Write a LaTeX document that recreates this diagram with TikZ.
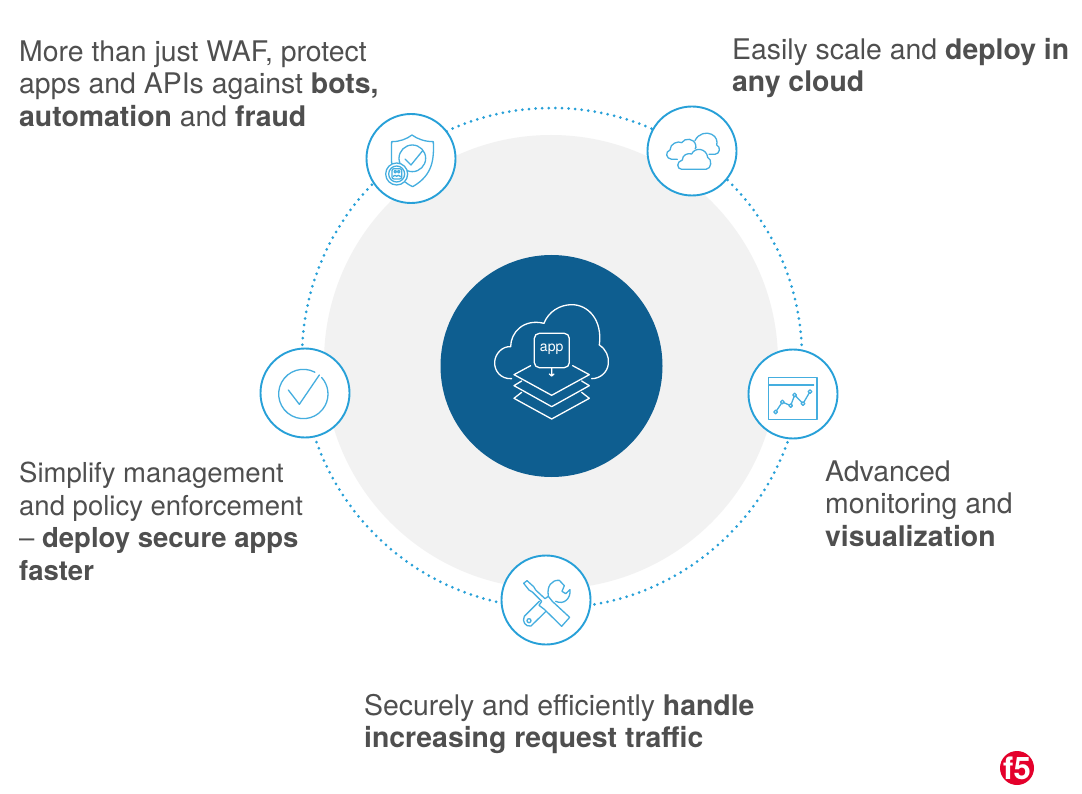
\documentclass[tikz,border=0pt]{standalone}
\usepackage{fontspec}
\setmainfont{TeX Gyre Heros}
\definecolor{ringblue}{HTML}{27A0D8}
\definecolor{iconblue}{HTML}{45AEDF}
\definecolor{deepblue}{HTML}{0E5E90}
\definecolor{softgray}{HTML}{F2F2F2}
\definecolor{bodytext}{HTML}{4F4F4F}
\definecolor{brandred}{HTML}{E4002B}
\tikzset{
  iconring/.style={circle,draw=ringblue,line width=1.9pt,fill=white,minimum size=89pt,inner sep=0pt},
  caption/.style={anchor=north west,inner sep=0pt,align=left,text=bodytext,font=\fontsize{28.4}{32.5}\selectfont},
  captionsmall/.style={caption,font=\fontsize{27.5}{32.5}\selectfont},
  iconline/.style={draw=iconblue,line width=1.3pt,line join=round,line cap=round},
  whiteline/.style={draw=white,line width=1.3pt,line join=round,line cap=round},
  zoomed/.style={shift={#1},x=0.3333pt,y=-0.3333pt},
}
\begin{document}
\begin{tikzpicture}[x=1pt,y=-1pt]
\useasboundingbox (0,0) rectangle (1082,794);
\fill[white] (0,0) rectangle (1082,794);
\node[circle,fill=softgray,minimum size=454pt,inner sep=0pt] (halo) at (551,362) {};
\node[circle,draw=ringblue,line width=3pt,dash pattern=on 0pt off 6.6pt,line cap=round,minimum size=500pt,inner sep=0pt] (ring) at (552,358) {};
\node[circle,fill=deepblue,minimum size=222pt,inner sep=0pt] (hub) at (551.5,366) {};
\node[iconring] (shieldicon) at (411,158.5) {};
\node[iconring] (cloudicon) at (692,151) {};
\node[iconring] (charticon) at (793,394) {};
\node[iconring] (toolicon) at (546,600) {};
\node[iconring] (checkicon) at (305,393) {};

% hub icon
\begin{scope}[zoomed={(480,290)}]
\draw[whiteline] (95,266) .. controls (62,268) and (42,242) .. (44,215) .. controls (46,190) and (68,168) .. (92,170)
  .. controls (92,128) and (130,85) .. (192,100) .. controls (205,65) and (240,44) .. (275,44)
  .. controls (325,44) and (368,90) .. (358,165) .. controls (378,178) and (388,200) .. (385,222) .. controls (382,248) and (360,266) .. (335,266);
\draw[whiteline,rounded corners=5pt] (163,130) rectangle (268,233);
\node[text=white,font=\fontsize{14}{14}\selectfont,inner sep=0pt] (applabel) at (215,177) {app};
\draw[whiteline] (215,233) -- (215,258) (208,252) -- (215,258) -- (222,252);
\draw[whiteline] (152,227) -- (102,254) -- (215,316) -- (328,254) -- (278,227);
\draw[whiteline] (125,273) -- (102,287) -- (215,350) -- (328,287) -- (305,273);
\draw[whiteline] (125,307) -- (102,325) -- (215,387) -- (328,325) -- (305,307);
\end{scope}

% shield icon
\begin{scope}[zoomed={(350,100)}]
\draw[iconline] (125,190) .. controls (124,170) and (124,150) .. (125,125) .. controls (150,125) and (170,117) .. (186,105)
  .. controls (202,117) and (225,125) .. (250,125) .. controls (252,175) and (250,225) .. (188,260) .. controls (180,256) and (172,252) .. (165,246);
\draw[iconline] (187,175) circle[radius=40];
\draw[iconline] (165,177) -- (183,195) -- (218,152);
\draw[iconline,fill=white] (140,222) circle[radius=33];
\draw[iconline] (140,222) circle[radius=24];
\draw[iconline,rounded corners=2pt] (126,206) rectangle (155,237);
\draw[iconline] (136,215) circle[radius=4] (146,215) circle[radius=4];
\draw[iconline] (130,229) -- (135,226) -- (140,229) -- (145,226) -- (151,229);
\end{scope}

% clouds icon
\begin{scope}[zoomed={(635,100)}]
\draw[iconline] (180,122) .. controls (190,100) and (215,95) .. (230,103) .. controls (245,110) and (248,125) .. (245,135)
  .. controls (258,140) and (255,162) .. (240,163) -- (222,163);
\draw[iconline] (127,178) -- (110,178) .. controls (92,176) and (90,155) .. (105,150) .. controls (105,130) and (130,122) .. (140,128)
  .. controls (150,112) and (178,115) .. (182,135) .. controls (184,142) and (183,145) .. (180,146);
\draw[iconline,fill=white] (140,208) .. controls (125,207) and (123,185) .. (142,180) .. controls (142,165) and (158,158) .. (170,162)
  .. controls (180,140) and (215,145) .. (218,172) .. controls (232,178) and (230,207) .. (213,208) -- cycle;
\end{scope}

% chart icon
\begin{scope}[zoomed={(740,340)}]
\draw[iconline] (86,112) rectangle (231,238);
\draw[iconline] (86,135) -- (221,135);
\draw[iconline] (107,216) -- (127,186) -- (152,197) -- (164,165) -- (189,191) -- (210,155);
\foreach \px/\py in {107/216,127/186,152/197,164/165,189/191,210/155}
  \draw[iconline,fill=white] (\px,\py) circle[radius=5.5];
\end{scope}

% tools icon
\begin{scope}[zoomed={(495,548)}]
\draw[iconline] (160,143) .. controls (155,115) and (170,95) .. (193,97) -- (208,113) -- (201,130) -- (212,137) -- (225,125)
  .. controls (228,150) and (208,172) .. (182,160);
\draw[iconline] (133,160) -- (88,205) .. controls (80,220) and (92,238) .. (108,234) -- (153,190);
\draw[iconline] (102,218) circle[radius=6];
\draw[iconline] (86,106) -- (96,98) -- (116,116) -- (122,126) -- (150,152) -- (160,145) -- (172,160) -- (224,208) -- (200,235) -- (148,184) -- (132,172) -- (140,160) -- (112,132) -- (102,126) -- cycle;
\end{scope}

% check icon
\begin{scope}[zoomed={(255,340)}]
\draw[iconline] (145,162) ++(-62:74) arc[start angle=-62,end angle=-402,radius=74];
\draw[iconline] (100,150) -- (133,193) -- (193,105);
\end{scope}

% captions
\node[caption] (capa) at (19,40.5) {More than just WAF, protect\\apps and APIs against \textbf{bots,}\\\textbf{automation} and \textbf{fraud}};
\node[caption] (capb) at (732,38) {Easily scale and \textbf{deploy in}\\\textbf{any cloud}};
\node[caption] (capc) at (825,460.5) {Advanced\\monitoring and\\\textbf{visualization}};
\node[captionsmall] (capd) at (19,462) {Simplify management\\and policy enforcement\\– \textbf{deploy secure apps}\\\textbf{faster}};
\node[caption] (cape) at (364,694) {Securely and efficiently \textbf{handle}\\\textbf{increasing request traffic}};

% logo
\node[circle,fill=brandred,minimum size=34pt,inner sep=0pt] (logo) at (1017,768) {};
\node[text=white,font=\bfseries\fontsize{31}{31}\selectfont,inner sep=0pt] (logotext) at (logo.center) {f5};
\end{tikzpicture}
\end{document}
